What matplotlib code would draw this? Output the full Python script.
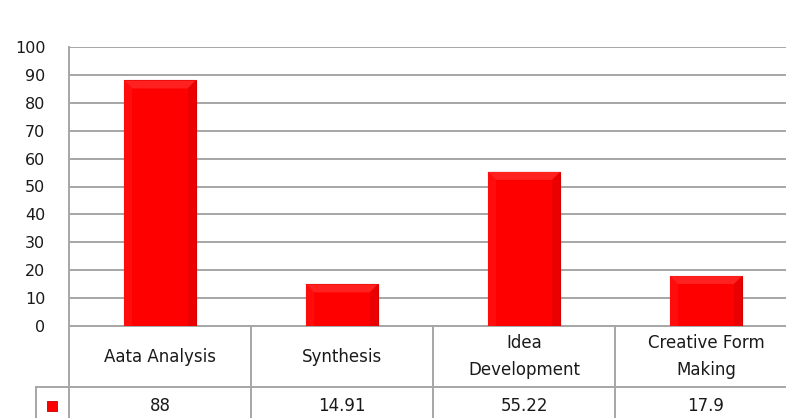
import numpy as np
import matplotlib.pyplot as plt
from matplotlib.patches import Polygon

categories = ['Aata Analysis', 'Synthesis', 'Idea\nDevelopment', 'Creative Form\nMaking']
values = [88, 14.91, 55.22, 17.9]
value_labels = ['88', '14.91', '55.22', '17.9']
y_ticks = list(range(0, 101, 10))

W, H = 786, 418
fig = plt.figure(figsize=(W / 100, H / 100), dpi=100)
plt.rcParams['font.family'] = ['DejaVu Sans']

# plot area in pixels (runs a little past the right edge)
left_px, right_px, top_px, bottom_px = 69, 797, 47, 326
ax = fig.add_axes([left_px / W, (H - bottom_px) / H,
                   (right_px - left_px) / W, (bottom_px - top_px) / H])

grid_col = '#a6a6a6'
red = '#ff0000'

x = np.arange(len(categories))
bar_w = 0.4
ax.set_xlim(-0.5, len(categories) - 0.5)
ax.set_ylim(0, 100)
ax.set_yticks(y_ticks)
ax.yaxis.grid(True, color=grid_col, lw=1.4)
ax.set_axisbelow(True)
for s in ['top', 'right', 'bottom']:
    ax.spines[s].set_visible(False)
ax.spines['left'].set_color(grid_col)
ax.spines['left'].set_linewidth(1.4)
ax.set_xticks([])
ax.tick_params(axis='y', length=0, pad=17, labelsize=11.5, labelcolor='#1a1a1a')

bars = ax.bar(x, values, width=bar_w, color=red, edgecolor='#d40000', lw=0.8, zorder=2)

# bevel faces, sized from the axis scale (about 8 px deep)
px_x = (len(categories)) / (right_px - left_px)
px_y = 100 / (bottom_px - top_px)
bx, by = 8 * px_x, 8 * px_y
for b in bars:
    x0, x1 = b.get_x(), b.get_x() + b.get_width()
    y0, y1 = 0, b.get_height()
    faces = [
        ([(x0, y1), (x1, y1), (x1 - bx, y1 - by), (x0 + bx, y1 - by)], '#ff2020'),
        ([(x1, y1), (x1, y0), (x1 - bx, y0), (x1 - bx, y1 - by)], '#ea0000'),
        ([(x0, y1), (x0, y0), (x0 + bx, y0), (x0 + bx, y1 - by)], '#ff0c0c'),
    ]
    for pts, c in faces:
        ax.add_patch(Polygon(pts, closed=True, facecolor=c, edgecolor='none', zorder=3))

# data table under the axis
row1 = -(387 - bottom_px) * px_y
row2 = -(430 - bottom_px) * px_y
tbl = dict(color=grid_col, lw=1.4, clip_on=False, zorder=1)
ax.plot([-0.5, 3.5], [0, 0], **tbl)
ax.plot([-0.5 - 33 * px_x, 3.5], [row1, row1], **tbl)
ax.plot([-0.5 - 33 * px_x] * 2, [row1, row2], **tbl)
for xb in [-0.5, 0.5, 1.5, 2.5]:
    ax.plot([xb, xb], [0, row2], **tbl)

for xi, cat, lab in zip(x, categories, value_labels):
    ax.text(xi, row1 / 2, cat, ha='center', va='center', fontsize=12,
            color='#1a1a1a', linespacing=1.6, clip_on=False)
    ax.text(xi, (row1 + row2) / 2 + 2.5 * px_y, lab, ha='center', va='center',
            fontsize=12, color='#1a1a1a', clip_on=False)

# legend key in the value row
ax.scatter([-0.5 - 17 * px_x], [(row1 + row2) / 2 + 2.5 * px_y], marker='s', s=45,
           color=red, edgecolor='#c00000', lw=0.6, clip_on=False, zorder=4)

fig.savefig('out.png', dpi=100)
